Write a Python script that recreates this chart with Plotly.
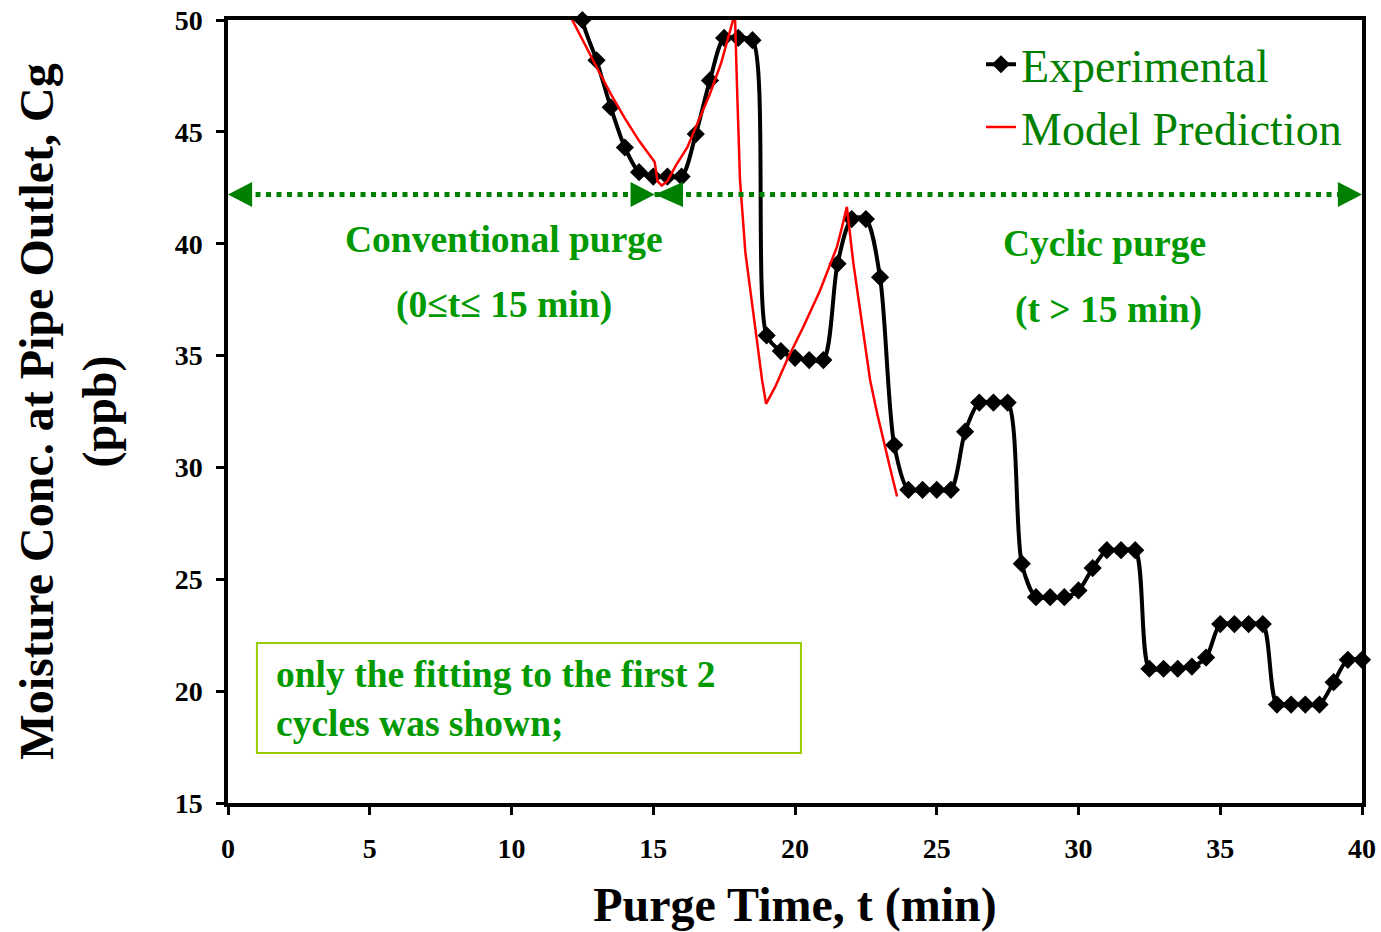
import plotly.graph_objects as go

# Experimental data (min, ppb)
exp_t = [12.0, 12.5, 13.0, 13.5, 14.0, 14.5, 15.0, 15.5, 16.0, 16.5, 17.0, 17.5, 18.0, 18.5,
         19.0, 19.5, 20.0, 20.5, 21.0, 21.5, 22.0, 22.5, 23.0, 23.5, 24.0, 24.5, 25.0, 25.5,
         26.0, 26.5, 27.0, 27.5, 28.0, 28.5, 29.0, 29.5, 30.0, 30.5, 31.0, 31.5, 32.0, 32.5,
         33.0, 33.5, 34.0, 34.5, 35.0, 35.5, 36.0, 36.5, 37.0, 37.5, 38.0, 38.5, 39.0, 39.5, 40.0]
exp_c = [56.0, 50.0, 48.2, 46.1, 44.3, 43.2, 43.0, 43.0, 43.0, 44.9, 47.3, 49.2, 49.2, 49.1,
         35.9, 35.2, 34.9, 34.8, 34.8, 39.1, 41.1, 41.1, 38.5, 31.0, 29.0, 29.0, 29.0, 29.0,
         31.6, 32.9, 32.9, 32.9, 25.7, 24.2, 24.2, 24.2, 24.5, 25.5, 26.3, 26.3, 26.3, 21.0,
         21.0, 21.0, 21.1, 21.5, 23.0, 23.0, 23.0, 23.0, 19.4, 19.4, 19.4, 19.4, 20.4, 21.4, 21.4]

# Model prediction (first 2 cycles)
mod_t = [11.9, 12.5, 13.0, 13.5, 14.0, 14.5, 15.05, 15.15, 15.3, 15.5, 15.8, 16.2, 16.6, 17.0,
         17.4, 17.8, 17.88, 17.97, 18.06, 18.25, 18.52, 18.7, 18.84, 18.98, 19.3, 19.72, 20.3,
         20.88, 21.2, 21.48, 21.65, 21.83, 22.06, 22.3, 22.65, 22.9, 23.1, 23.35, 23.6]
mod_c = [50.6, 49.1, 47.9, 46.7, 45.6, 44.6, 43.65, 42.8, 42.6, 42.8, 43.5, 44.3, 45.5, 46.7,
         48.1, 49.9, 50.3, 46.4, 42.85, 39.6, 36.9, 35.2, 33.9, 32.84, 33.6, 34.8, 36.3,
         37.9, 38.9, 39.86, 40.7, 41.65, 39.12, 37.0, 33.9, 32.4, 31.3, 30.0, 28.7]

x_ticks = [0, 5, 10, 15, 20, 25, 30, 35, 40]
y_ticks = [15, 20, 25, 30, 35, 40, 45, 50]

arrow_y = 42.2
phase_split = 15.05

GREEN = "#009900"
LEG_GREEN = "#008000"
SERIF = "Liberation Serif"

fig = go.Figure()
fig.add_trace(go.Scatter(
    x=exp_t, y=exp_c, name="Experimental", mode="lines+markers",
    line=dict(color="black", width=4, shape="spline", smoothing=0.8),
    marker=dict(symbol="diamond", size=14, color="black"),
    cliponaxis=False,
))
fig.add_trace(go.Scatter(
    x=mod_t, y=mod_c, name="Model Prediction", mode="lines",
    line=dict(color="#ff0000", width=2.5),
))

shapes = []
# dotted double-arrow lines
shapes.append(dict(type="line", xref="x", yref="y", x0=0.6, x1=39.4, y0=arrow_y, y1=arrow_y,
                   line=dict(color=LEG_GREEN, width=5, dash="5px,5.5px")))
hw = 0.85   # arrowhead length (min)
hh = 0.56   # arrowhead half height (ppb)
def tri(tip, base):
    return dict(type="path", xref="x", yref="y",
                path=f"M {tip},{arrow_y} L {base},{arrow_y + hh} L {base},{arrow_y - hh} Z",
                fillcolor=LEG_GREEN, line=dict(width=0))
shapes.append(tri(0, hw))
shapes.append(tri(phase_split, phase_split - hw))
shapes.append(tri(phase_split, phase_split + 1.0))
shapes.append(tri(40, 40 - hw))
# note box
shapes.append(dict(type="rect", xref="x", yref="y", x0=1.02, x1=20.21, y0=17.235, y1=22.15,
                   line=dict(color="#99cc00", width=2), fillcolor="rgba(0,0,0,0)"))

FS = 37.5
annotations = [
    dict(x=9.75, y=40.2, xref="x", yref="y", text="<b>Conventional purge</b>", showarrow=False,
         font=dict(family=SERIF, size=FS, color=GREEN)),
    dict(x=9.75, y=37.25, xref="x", yref="y", text="<b>(0≤t≤ 15 min)</b>", showarrow=False,
         font=dict(family=SERIF, size=FS, color=GREEN)),
    dict(x=30.9, y=40.0, xref="x", yref="y", text="<b>Cyclic purge</b>", showarrow=False,
         font=dict(family=SERIF, size=FS, color=GREEN)),
    dict(x=31.05, y=37.05, xref="x", yref="y", text="<b>(t > 15 min)</b>", showarrow=False,
         font=dict(family=SERIF, size=FS, color=GREEN)),
    dict(x=1.62, y=19.63, xref="x", yref="y", xanchor="left", yanchor="middle", align="left",
         text="<b>only the fitting to the first 2<br>cycles was shown;</b>", showarrow=False,
         font=dict(family=SERIF, size=FS, color=GREEN)),
]

fig.update_layout(
    width=1381, height=932,
    margin=dict(l=228, r=19, t=20, b=129),
    paper_bgcolor="white", plot_bgcolor="white",
    showlegend=True,
    legend=dict(x=0.664, y=0.99, xanchor="left", yanchor="top",
                font=dict(family=SERIF, size=46, color=LEG_GREEN),
                bgcolor="rgba(0,0,0,0)", tracegroupgap=0),
    shapes=shapes,
    annotations=annotations,
)
fig.update_xaxes(
    range=[0, 40], tickvals=x_ticks, ticktext=[str(v) for v in x_ticks], automargin=False,
    showgrid=False, zeroline=False, showline=True, linecolor="black", linewidth=3.5,
    mirror=True, ticks="outside", ticklen=8, tickwidth=3, tickcolor="black",
    ticklabelstandoff=10, ticklabeloverflow="allow",
    tickfont=dict(family=SERIF, size=28, color="black", weight="bold"),
    title=dict(text="<b>Purge Time, t (min)</b>", font=dict(family=SERIF, size=48, color="black"),
               standoff=28),
)
fig.update_yaxes(
    range=[15, 50], tickvals=y_ticks, ticktext=[str(v) for v in y_ticks], automargin=False,
    showgrid=False, zeroline=False, showline=True, linecolor="black", linewidth=3.5,
    mirror=True, ticks="outside", ticklen=8, tickwidth=3, tickcolor="black",
    ticklabelstandoff=8, ticklabeloverflow="allow",
    tickfont=dict(family=SERIF, size=28, color="black", weight="bold"),
    title=dict(text="<b>Moisture Conc. at Pipe Outlet, Cg<br>(ppb)</b>",
               font=dict(family=SERIF, size=48, color="black"), standoff=44),
)

# remove the default 8px page margin so the figure fills the window exactly
fig.write_html("out.html", config={"displayModeBar": False},
               post_script="document.body.style.margin='0';")
